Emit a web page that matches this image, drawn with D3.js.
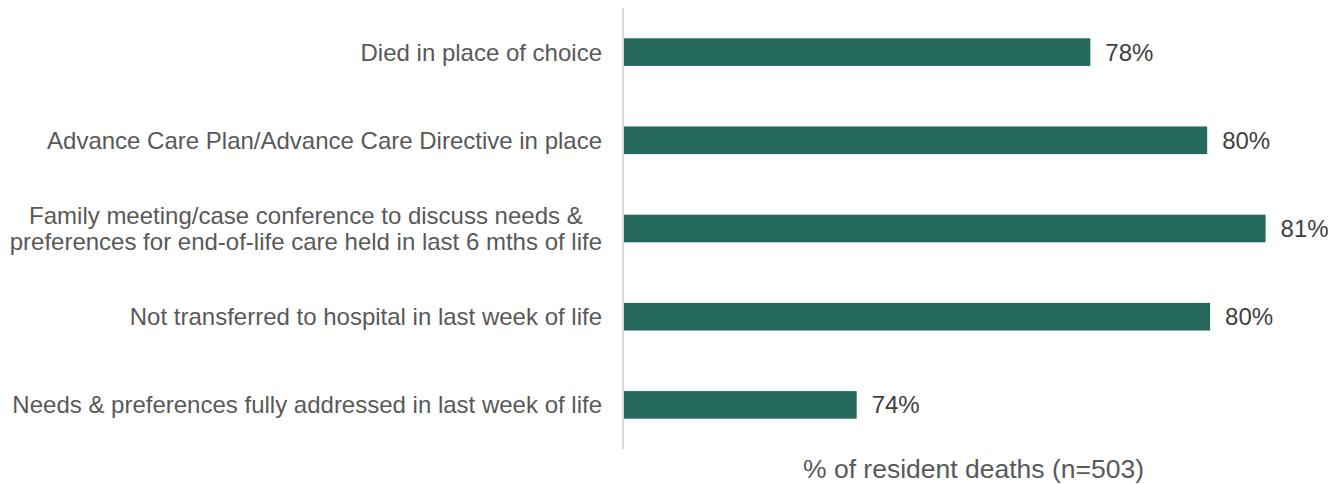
<!DOCTYPE html>
<html>
<head>
<meta charset="utf-8">
<script src="https://cdn.jsdelivr.net/npm/d3@7"></script>
<style>
  html, body { margin: 0; padding: 0; background: #fff; }
  svg { display: block; font-family: Arial, "Liberation Sans", sans-serif; }
</style>
</head>
<body>
<div id="chart"></div>
<script>
// measures, top to bottom; each label split into its display lines
const categories = [
  ['Died in place of choice'],
  ['Advance Care Plan/Advance Care Directive in place'],
  ['Family meeting/case conference to discuss needs &', 'preferences for end-of-life care held in last 6 mths of life'],
  ['Not transferred to hospital in last week of life'],
  ['Needs & preferences fully addressed in last week of life']
];
const values = [78.0, 80.0, 81.0, 80.05, 74.0];
const valueLabels = ['78%', '80%', '81%', '80%', '74%'];
const xDomain = [70, 82];
const axisTitle = '% of resident deaths (n=503)';

const W = 1342, H = 484;
const m = { t: 8, r: 18, b: 35, l: 623 };

const svg = d3.select('#chart').append('svg').attr('width', W).attr('height', H);

const x = d3.scaleLinear().domain(xDomain).range([m.l, W - m.r]);
const y = d3.scaleBand().domain(d3.range(values.length))
  .range([m.t, H - m.b]).paddingInner(0.687).paddingOuter(0.3435);

// bars
svg.selectAll('rect.bar').data(values).join('rect').attr('class', 'bar')
  .attr('x', x(xDomain[0])).attr('y', (d, i) => y(i))
  .attr('width', d => x(d) - x(xDomain[0])).attr('height', y.bandwidth())
  .attr('fill', '#25695d');

// baseline (left axis line)
svg.append('line')
  .attr('x1', x(xDomain[0])).attr('x2', x(xDomain[0]))
  .attr('y1', m.t).attr('y2', H - m.b)
  .attr('stroke', '#d9d9d9').attr('stroke-width', 2);

// value labels
svg.selectAll('text.val').data(values).join('text').attr('class', 'val')
  .attr('x', d => x(d) + 15).attr('y', (d, i) => y(i) + y.bandwidth() / 2)
  .attr('dy', '0.35em').attr('font-size', 24).attr('fill', '#404040')
  .text((d, i) => valueLabels[i]);

// category labels: a block right-aligned to the axis, lines centred inside it
const lh = 26;
const cat = svg.selectAll('text.cat').data(categories).join('text').attr('class', 'cat')
  .attr('text-anchor', 'middle').attr('font-size', 24).attr('fill', '#595959')
  .attr('transform', (d, i) => `translate(${m.l - 21},${y(i) + y.bandwidth() / 2})`);
cat.selectAll('tspan').data(d => d.map((s, k) => ({ s, k, n: d.length }))).join('tspan')
  .attr('y', d => (d.k - (d.n - 1) / 2) * lh)
  .attr('dy', '0.35em').text(d => d.s);
cat.each(function () {
  const spans = d3.select(this).selectAll('tspan');
  const wMax = d3.max(spans.nodes(), n => n.getComputedTextLength());
  spans.attr('x', -wMax / 2);
});

// axis title
svg.append('text')
  .attr('x', (x.range()[0] + x.range()[1]) / 2).attr('y', 478)
  .attr('text-anchor', 'middle').attr('font-size', 26.5).attr('fill', '#595959')
  .text(axisTitle);
</script>
</body>
</html>
